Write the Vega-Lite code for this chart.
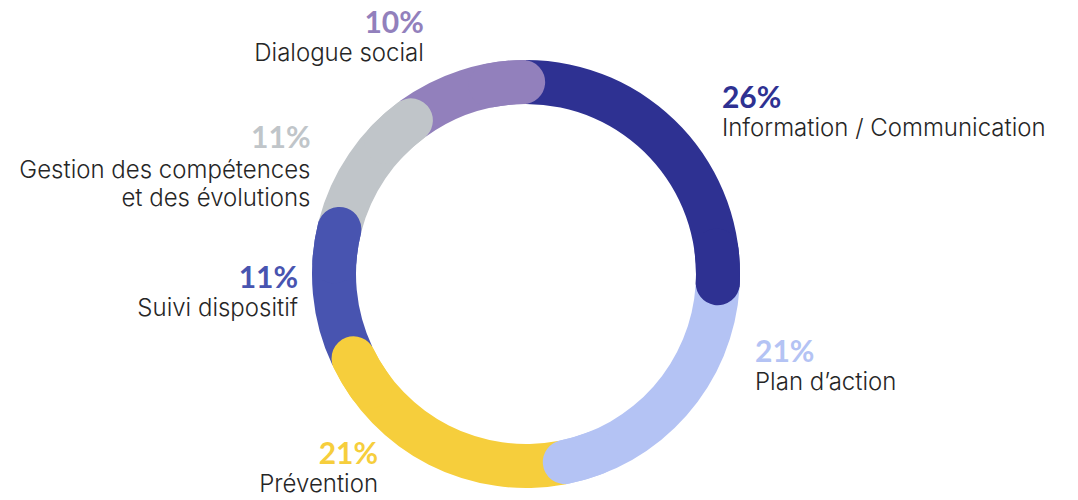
{
  "$schema": "https://vega.github.io/schema/vega-lite/v6.json",
  "width": 1052,
  "height": 452,
  "autosize": {"type": "none"},
  "padding": {"left": 0, "top": 48, "right": 26, "bottom": 0},
  "background": "white",
  "config": {"view": {"stroke": null}},
  "data": {
    "values": [
      {"rank": 1, "category": "Information / Communication", "value": 26},
      {"rank": 2, "category": "Plan d’action", "value": 21},
      {"rank": 3, "category": "Prévention", "value": 21},
      {"rank": 4, "category": "Suivi dispositif", "value": 11},
      {"rank": 5, "category": "Gestion des compétences\net des évolutions", "value": 11},
      {"rank": 6, "category": "Dialogue social", "value": 10}
    ]
  },
  "transform": [
    {"stack": "value", "groupby": [], "sort": [{"field": "rank", "order": "ascending"}], "as": ["start", "end"]},
    {"calculate": "datum.value + '%'", "as": "pct"}
  ],
  "layer": [
    {
      "mark": {"type": "arc", "outerRadius": 214, "innerRadius": 170},
      "encoding": {
        "theta": {"field": "start", "type": "quantitative", "scale": {"domain": [0, 100]}},
        "theta2": {"field": "end"},
        "color": {
          "field": "category", "type": "nominal", "legend": null,
          "scale": {
            "domain": ["Information / Communication", "Plan d’action", "Prévention", "Suivi dispositif", "Gestion des compétences\net des évolutions", "Dialogue social"],
            "range": ["#2E3192", "#B4C3F4", "#F6CE3C", "#4854B0", "#C0C5C9", "#9280BC"]
          }
        }
      }
    },
    {
      "mark": {"type": "arc", "outerRadius": 214, "innerRadius": 170, "cornerRadius": 22, "thetaOffset": -0.3, "theta2Offset": 0.1},
      "encoding": {
        "theta": {"field": "end", "type": "quantitative", "scale": {"domain": [0, 100]}},
        "theta2": {"field": "end"},
        "color": {"field": "category", "type": "nominal", "legend": null}
      }
    },
    {
      "mark": {
        "type": "text", "radius": 240, "fontSize": 30, "fontWeight": "bold", "font": "Lato",
        "baseline": "alphabetic",
        "align": {"expr": "datum.rank <= 2 ? 'left' : 'right'"},
        "dx": {"expr": "datum.rank==1?21:datum.rank==2?49:datum.rank==3?-39:datum.rank==4?11:datum.rank==5?-17:-28"},
        "dy": {"expr": "datum.rank==1?-2:datum.rank==2?-71:datum.rank==3?-24:datum.rank==4?-9:datum.rank==5?9:-13"}
      },
      "encoding": {
        "theta": {"field": "value", "type": "quantitative", "stack": true, "scale": {"domain": [0, 100]}},
        "order": {"field": "rank", "type": "quantitative"},
        "text": {"field": "pct"},
        "color": {"field": "category", "type": "nominal", "legend": null}
      }
    },
    {
      "mark": {
        "type": "text", "radius": 240, "fontSize": 24, "fontWeight": 300, "font": "Inter",
        "color": "#262626", "baseline": "alphabetic", "lineBreak": "\n", "lineHeight": 28,
        "align": {"expr": "datum.rank <= 2 ? 'left' : 'right'"},
        "dx": {"expr": "datum.rank==1?21:datum.rank==2?49:datum.rank==3?-39:datum.rank==4?11:datum.rank==5?-17:-28"},
        "dy": {"expr": "datum.rank==1?26:datum.rank==2?-43:datum.rank==3?4:datum.rank==4?19:datum.rank==5?39:15"}
      },
      "encoding": {
        "theta": {"field": "value", "type": "quantitative", "stack": true, "scale": {"domain": [0, 100]}},
        "order": {"field": "rank", "type": "quantitative"},
        "detail": {"field": "category"},
        "text": {"field": "category"}
      }
    }
  ]
}
